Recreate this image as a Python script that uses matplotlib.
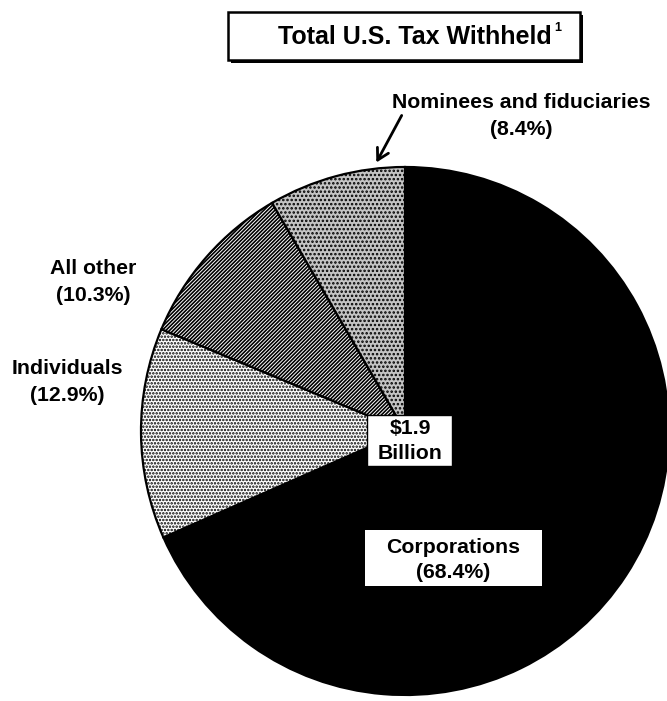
import matplotlib.pyplot as plt
from matplotlib.patches import Rectangle

plt.rcParams['font.family'] = ['Liberation Sans', 'DejaVu Sans']
plt.rcParams['hatch.linewidth'] = 1.2

# data
categories = ['Corporations', 'Individuals', 'All other', 'Nominees and fiduciaries']
shares = [68.4, 12.9, 10.3, 8.4]
total_label = '$1.9\nBillion'
title = 'Total U.S. Tax Withheld'

W, H = 667, 701
fig = plt.figure(figsize=(W / 100, H / 100), dpi=100)
ax = fig.add_axes([0, 0, 1, 1])

def py(y):
    # pixel row (from top) -> data y
    return H - y

cx, cy, r = 405, py(431), 264

colors = ['black', 'white', 'white', '#c4c4c4']
hatches = [None, '.....', '/////////', '....']
wedges, _ = ax.pie(shares, startangle=90, counterclock=False, center=(cx, cy),
                   radius=r, colors=colors, frame=True,
                   wedgeprops=dict(edgecolor='black', linewidth=1.6))
for w, h in zip(wedges, hatches):
    if h:
        w.set_hatch(h)
ax.set_xlim(0, W)
ax.set_ylim(0, H)
ax.set_aspect('equal')
ax.axis('off')

bold = dict(fontweight='bold', ha='center', va='center', color='black')
fs = 15.3
ls = 1.55

# title box with shadow
ax.add_patch(Rectangle((231, py(63)), 352, 48, facecolor='black', edgecolor='none', zorder=5))
ax.add_patch(Rectangle((228, py(60)), 352, 48, facecolor='white', edgecolor='black',
                       linewidth=1.8, zorder=6))
ax.text(415, py(37), title, fontsize=18, zorder=7, **bold)
ax.text(558, py(28), '1', fontsize=9, zorder=7, **bold)

# center total
ax.add_patch(Rectangle((367, py(466)), 85, 51, facecolor='white', edgecolor='black',
                       linewidth=1, zorder=5))
ax.text(410, py(441), total_label, fontsize=fs, linespacing=1.38, zorder=6, **bold)

# corporations label box
ax.add_patch(Rectangle((365, py(586)), 177, 56, facecolor='white', edgecolor='none', zorder=5))
ax.text(453, py(560), f'{categories[0]}\n({shares[0]}%)', fontsize=fs,
        linespacing=1.4, zorder=6, **bold)

ax.text(67, py(382), f'{categories[1]}\n({shares[1]}%)', fontsize=fs, linespacing=ls, **bold)
ax.text(93, py(282), f'{categories[2]}\n({shares[2]}%)', fontsize=fs, linespacing=ls, **bold)
ax.text(521, py(116), f'{categories[3]}\n({shares[3]}%)', fontsize=fs, linespacing=ls, **bold)

ax.annotate('', xy=(375, py(165)), xytext=(403, py(113)),
            arrowprops=dict(arrowstyle='->,head_length=0.8,head_width=0.45',
                            color='black', lw=2))

fig.savefig('out.png', dpi=100)
